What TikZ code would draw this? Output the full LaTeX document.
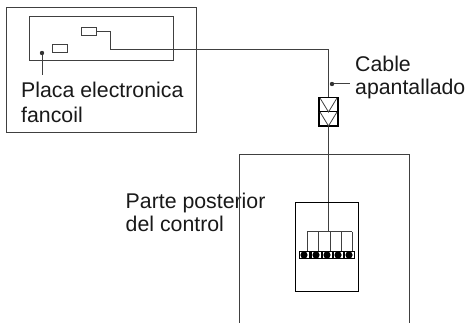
\documentclass[tikz,border=0pt]{standalone}
\usepackage{fontspec}
\setmainfont{Liberation Sans}
\usetikzlibrary{calc}
\tikzset{
  wire/.style={draw=black!75,line width=1pt},
  caption/.style={anchor=base west,align=left,inner sep=0pt,text=black!90,font=\fontsize{21.3}{21.3}\selectfont}
}
\begin{document}
\begin{tikzpicture}[x=1pt,y=-1pt]
\useasboundingbox (0,0) rectangle (466,323);
% Corners of the fancoil box and of its board
\coordinate (fan1) at (6,7.5);
\coordinate (fan2) at (196,133);
\coordinate (board1) at (29,17);
\coordinate (board2) at (173,61);
\draw [wire] (fan1) rectangle (fan2);
\draw [wire] (board1) rectangle (board2);
% Two small connectors on the board
\draw [wire] (81,28) rectangle (96,36);
\draw [wire] (52,45) rectangle (67,53);
% Leader of the board
\coordinate (lead1) at (42,53);
\coordinate (lead2) at (42,75);
\draw [wire] (lead1) -- (lead2);
\fill [black!80] (lead1) circle (2.2pt);
\node [caption] (placa) at (21,98) {Placa electronica};
\node [caption] (fancoil) at (21,122.5) {fancoil};
% The cable, from the board to the terminals
\coordinate (c1) at (96,32);
\coordinate (c2) at (110,32);
\coordinate (c3) at (110,50);
\coordinate (c4) at (328,50);
\coordinate (c5) at (328,232);
\draw [wire] (c1) -- (c2) -- (c3) -- (c4) -- (c5);
% Leader of the cable
\coordinate (lead3) at (332,84);
\coordinate (lead4) at (350,84);
\draw [wire] (lead3) -- (lead4);
\fill [black!80] (lead3) circle (2.2pt);
\node [caption] (cable) at (355,72) {Cable};
\node [caption] (apantallado) at (355,95) {apantallado};
% Shield clamp, two boxes with a V in each
\draw [black,line width=1.1pt,fill=white] (319,97.5) rectangle (338,126);
\draw [black,line width=1pt] (319,112) -- (338,112);
\draw [black!75,line width=.8pt] (320,98) -- (328.5,112) -- (337,98);
\draw [black!75,line width=.8pt] (320,112) -- (328.5,126) -- (337,112);
% Captions first, the box line runs over them
\node [caption] (parte) at (125.5,209) {Parte posterior};
\node [caption] (del) at (125.5,232) {del control};
% Back of the control, open at the bottom
\coordinate (ctrl1) at (239,155);
\coordinate (ctrl2) at (409,323);
\draw [wire] (ctrl1 |- ctrl2) -- (ctrl1) -- (ctrl1 -| ctrl2) -- (ctrl2);
\draw [black,line width=1pt] (295,203) rectangle (358,291);
% Comb of wires to the terminals
\draw [wire] (307,232) -- (352,232);
\foreach \x in {307,318,330,341,352}
  \draw [wire] (\x,232) -- (\x,251);
% Terminal strip
\fill [black] (299,251) rectangle (355,259.5);
\foreach \x in {304,316,327,338,349} {
  \fill [white] (\x-4.5,252.5) rectangle (\x+4.5,258);
  \fill [black] (\x,255) circle (3.6pt);
}
\end{tikzpicture}
\end{document}
